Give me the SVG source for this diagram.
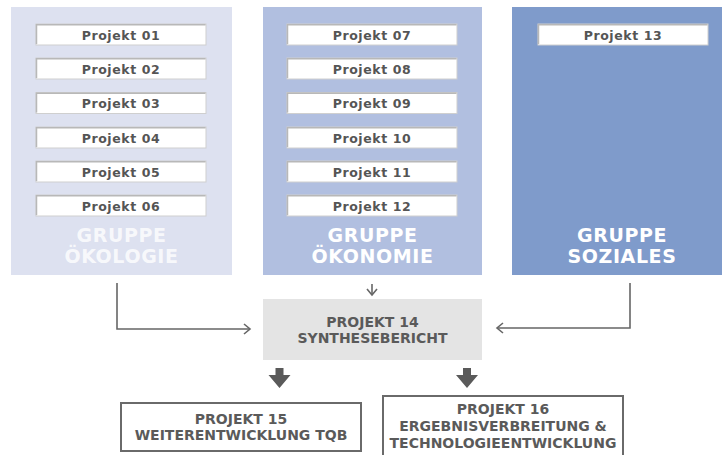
<svg xmlns="http://www.w3.org/2000/svg" width="722" height="455" viewBox="0 0 722 455">
<defs>
<style>
.pbox{fill:#ffffff;stroke:#cfcfcf;stroke-width:1}
.pshade{stroke:#b8b8b8;stroke-width:1.5;fill:none}
.plabel{font-family:"DejaVu Sans",sans-serif;font-weight:bold;font-size:12.5px;letter-spacing:0.6px;fill:#555555;text-anchor:middle}
.glabel{font-family:"DejaVu Sans",sans-serif;font-weight:bold;font-size:19px;letter-spacing:0.6px;fill:#ffffff;text-anchor:middle}
.blabel{font-family:"DejaVu Sans",sans-serif;font-weight:bold;font-size:14px;fill:#5a5a5a;text-anchor:middle}
.conn{fill:none;stroke:#666666;stroke-width:1.6}
.bigarrow{fill:#5a5a5a}
.outbox{fill:#ffffff;stroke:#6a6a6a;stroke-width:2}
</style>
<marker id="chev" markerUnits="userSpaceOnUse" markerWidth="12" markerHeight="14" refX="7" refY="6" orient="auto" viewBox="0 0 12 14">
<path d="M1,1 L7,6 L1,11" fill="none" stroke="#666666" stroke-width="1.6"/>
</marker>
<g id="pb">
<rect class="pbox" x="0" y="0" width="170" height="21"/>
<path class="pshade" d="M0.5,20 V0.8 H169.5"/>
</g>
</defs>
<rect width="722" height="455" fill="#ffffff"/>

<g id="gruppe-oekologie">
<rect x="11" y="7" width="221" height="268" fill="#dde1f0"/>
<text class="glabel" x="121.5" y="242" style="fill:#ffffff;fill-opacity:0.8">GRUPPE</text>
<text class="glabel" x="121.5" y="263" style="fill:#ffffff;fill-opacity:0.8">ÖKOLOGIE</text>
</g>
<g id="projekt-01"><use href="#pb" x="36" y="24"/><text class="plabel" x="121" y="39.5">Projekt 01</text></g>
<g id="projekt-02"><use href="#pb" x="36" y="58"/><text class="plabel" x="121" y="73.5">Projekt 02</text></g>
<g id="projekt-03"><use href="#pb" x="36" y="92.5"/><text class="plabel" x="121" y="108">Projekt 03</text></g>
<g id="projekt-04"><use href="#pb" x="36" y="127"/><text class="plabel" x="121" y="142.5">Projekt 04</text></g>
<g id="projekt-05"><use href="#pb" x="36" y="161"/><text class="plabel" x="121" y="176.5">Projekt 05</text></g>
<g id="projekt-06"><use href="#pb" x="36" y="195"/><text class="plabel" x="121" y="210.5">Projekt 06</text></g>

<g id="gruppe-oekonomie">
<rect x="263" y="7" width="219" height="268" fill="#b1bfe0"/>
<text class="glabel" x="372.5" y="242">GRUPPE</text>
<text class="glabel" x="372.5" y="263">ÖKONOMIE</text>
</g>
<g id="projekt-07"><use href="#pb" x="287" y="24"/><text class="plabel" x="372" y="39.5">Projekt 07</text></g>
<g id="projekt-08"><use href="#pb" x="287" y="58"/><text class="plabel" x="372" y="73.5">Projekt 08</text></g>
<g id="projekt-09"><use href="#pb" x="287" y="92.5"/><text class="plabel" x="372" y="108">Projekt 09</text></g>
<g id="projekt-10"><use href="#pb" x="287" y="127"/><text class="plabel" x="372" y="142.5">Projekt 10</text></g>
<g id="projekt-11"><use href="#pb" x="287" y="161"/><text class="plabel" x="372" y="176.5">Projekt 11</text></g>
<g id="projekt-12"><use href="#pb" x="287" y="195"/><text class="plabel" x="372" y="210.5">Projekt 12</text></g>

<g id="gruppe-soziales">
<rect x="512" y="7" width="210" height="268" fill="#7f9bcb"/>
<text class="glabel" x="622" y="242">GRUPPE</text>
<text class="glabel" x="622" y="263">SOZIALES</text>
</g>
<g id="projekt-13"><use href="#pb" x="538" y="24"/><text class="plabel" x="623" y="39.5">Projekt 13</text></g>

<g id="projekt-14">
<rect x="263" y="299" width="219" height="61" fill="#e4e4e4"/>
<text class="blabel" x="372.5" y="327">PROJEKT 14</text>
<text class="blabel" x="372.5" y="343">SYNTHESEBERICHT</text>
</g>

<g id="projekt-15">
<rect class="outbox" x="121" y="403" width="240" height="48"/>
<text class="blabel" x="241" y="424">PROJEKT 15</text>
<text class="blabel" x="241" y="440">WEITERENTWICKLUNG TQB</text>
</g>

<g id="projekt-16">
<rect class="outbox" x="383" y="396" width="240" height="70"/>
<text class="blabel" x="503" y="414">PROJEKT 16</text>
<text class="blabel" x="503" y="431">ERGEBNISVERBREITUNG &amp;</text>
<text class="blabel" x="503" y="448">TECHNOLOGIEENTWICKLUNG</text>
</g>

<g id="connectors">
<path class="conn" d="M117,283 V329 H250" marker-end="url(#chev)"/>
<path class="conn" d="M630,283 V328 H497" marker-end="url(#chev)"/>
<path class="conn" d="M372,284 V295" marker-end="url(#chev)"/>
<path class="bigarrow" d="M275.5,368 H283.5 V375 H290.5 L279.5,388 L268.5,375 H275.5 Z"/>
<path class="bigarrow" d="M463,368 H471 V375 H478 L467,388 L456,375 H463 Z"/>
</g>
</svg>
